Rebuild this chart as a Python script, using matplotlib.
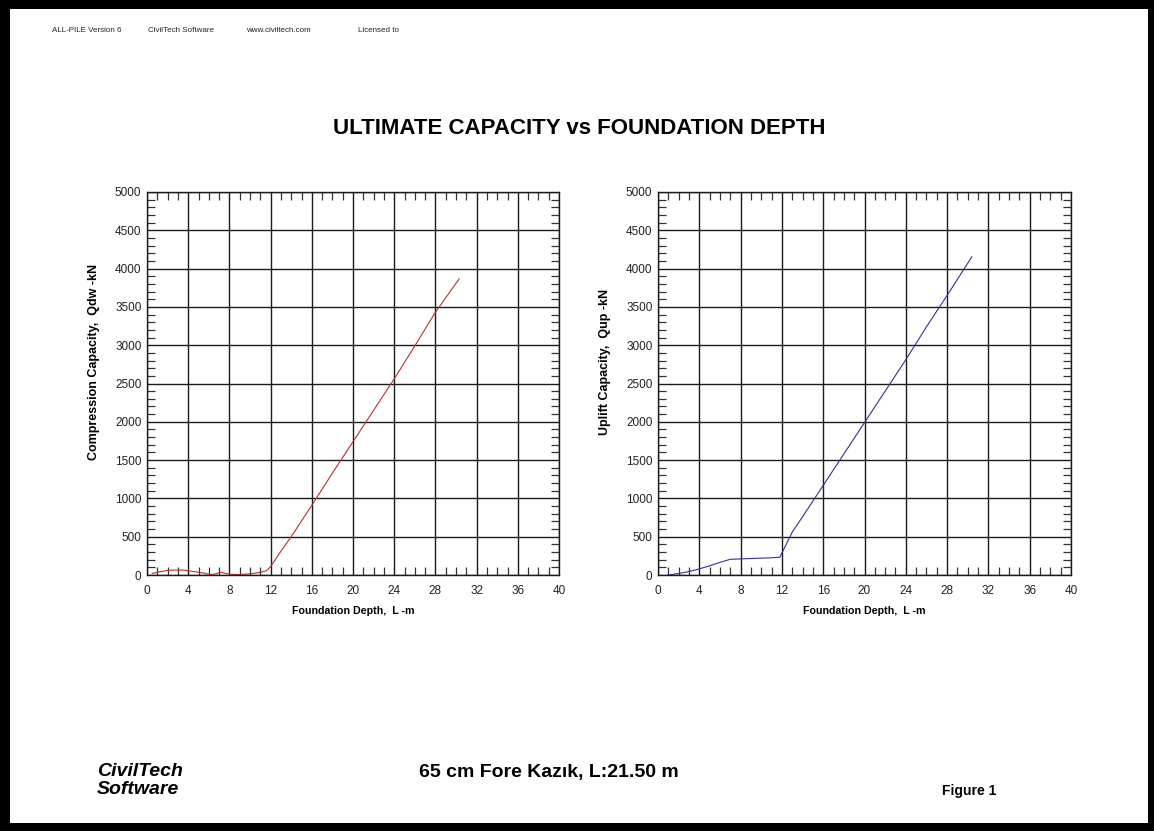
import matplotlib
matplotlib.use("Agg")
import matplotlib.pyplot as plt
from matplotlib.patches import Rectangle
from matplotlib.ticker import MultipleLocator

plt.rcParams['font.family'] = ['Liberation Sans', 'DejaVu Sans']

# compression capacity vs depth
comp_depth = [0.5, 1.0, 2.0, 3.0, 3.5, 4.5, 5.5, 6.2, 6.8, 7.2, 8.0, 9.0, 10.0, 11.0,
              11.6, 12.0, 13.0, 14.0, 16.0, 18.0, 20.0, 22.0, 24.0, 26.0, 28.0, 30.3]
comp_qdw = [20, 35, 60, 65, 65, 45, 25, 5, 20, 35, 10, 5, 15, 35,
            55, 110, 310, 500, 910, 1330, 1740, 2150, 2560, 2990, 3430, 3865]

# uplift capacity vs depth
up_depth = [1.0, 2.0, 3.0, 4.0, 5.0, 6.0, 7.0, 8.0, 9.0, 10.0, 11.0, 11.8,
            13.0, 14.0, 16.0, 18.0, 20.0, 22.0, 24.0, 26.0, 28.0, 30.4]
up_qup = [0, 20, 45, 80, 120, 165, 205, 210, 215, 220, 225, 232,
          560, 760, 1170, 1580, 1990, 2400, 2810, 3240, 3650, 4155]

x_ticks = list(range(0, 41, 4))
y_ticks = list(range(0, 5001, 500))

fig = plt.figure(figsize=(11.54, 8.31), dpi=100)
fig.patch.set_facecolor('white')

# heavy black page border
W, H = 1154, 831
fig.patches.append(Rectangle((0, 0), 1, 1, transform=fig.transFigure,
                             facecolor='black', edgecolor='none', zorder=-2))
fig.patches.append(Rectangle((10 / W, 8 / H), (W - 10 - 6) / W, (H - 9 - 8) / H,
                             transform=fig.transFigure, facecolor='white',
                             edgecolor='none', zorder=-1))

# header line
hdr_y = 1 - 31 / H
for x, s in [(52, 'ALL-PILE Version 6'), (148, 'CivilTech Software'),
             (246, 'www.civiltech.com'), (358, 'Licensed to')]:
    fig.text(x / W, hdr_y, s, fontsize=5.8, va='center', ha='left', color='#222222')

fig.text(579 / W, 1 - 129 / H, 'ULTIMATE CAPACITY vs FOUNDATION DEPTH',
         fontsize=16, fontweight='bold', ha='center', va='center')


def setup(ax, ylabel):
    ax.set_xlim(0, 40)
    ax.set_ylim(0, 5000)
    ax.set_xticks(x_ticks)
    ax.set_yticks(y_ticks)
    ax.xaxis.set_minor_locator(MultipleLocator(1))
    ax.yaxis.set_minor_locator(MultipleLocator(100))
    ax.grid(True, which='major', color='#1a1a1a', linewidth=1.0)
    ax.tick_params(which='major', length=0, labelsize=8.5, colors='#222222')
    ax.tick_params(axis='x', which='major', pad=7)
    ax.tick_params(axis='y', which='major', pad=4)
    ax.tick_params(which='minor', direction='in', length=6, width=0.9,
                   top=True, right=True, color='#333333')
    for sp in ax.spines.values():
        sp.set_linewidth(1.0)
        sp.set_color('#1a1a1a')
    ax.set_xlabel('Foundation Depth,  L -m', fontsize=7.7, fontweight='bold', labelpad=7)
    ax.set_ylabel(ylabel, fontsize=9, fontweight='bold')
    # y label sits a little above the axis centre
    ax.yaxis.set_label_coords(-0.113, 0.556)
    ax.set_axisbelow(True)


ax1 = fig.add_axes([147 / W, 1 - 575 / H, 412 / W, 383 / H])
setup(ax1, 'Compression Capacity,  Qdw -kN')
ax1.plot(comp_depth, comp_qdw, color='#b83030', linewidth=0.8)

ax2 = fig.add_axes([658 / W, 1 - 575 / H, 413 / W, 383 / H])
setup(ax2, 'Uplift Capacity,  Qup -kN')
ax2.plot(up_depth, up_qup, color='#34309a', linewidth=0.8)

# footer
fig.text(97 / W, 1 - 771 / H, 'CivilTech', fontsize=14, fontweight='bold',
         fontstyle='italic', ha='left', va='center')
fig.text(97 / W, 1 - 790 / H, 'Software', fontsize=14, fontweight='bold',
         fontstyle='italic', ha='left', va='center')
fig.text(549 / W, 1 - 772 / H, '65 cm Fore Kazık, L:21.50 m', fontsize=14,
         fontweight='bold', ha='center', va='center')
fig.text(942 / W, 1 - 791 / H, 'Figure 1', fontsize=10, fontweight='bold',
         ha='left', va='center')

fig.savefig('out.png', dpi=100, facecolor=fig.get_facecolor())
